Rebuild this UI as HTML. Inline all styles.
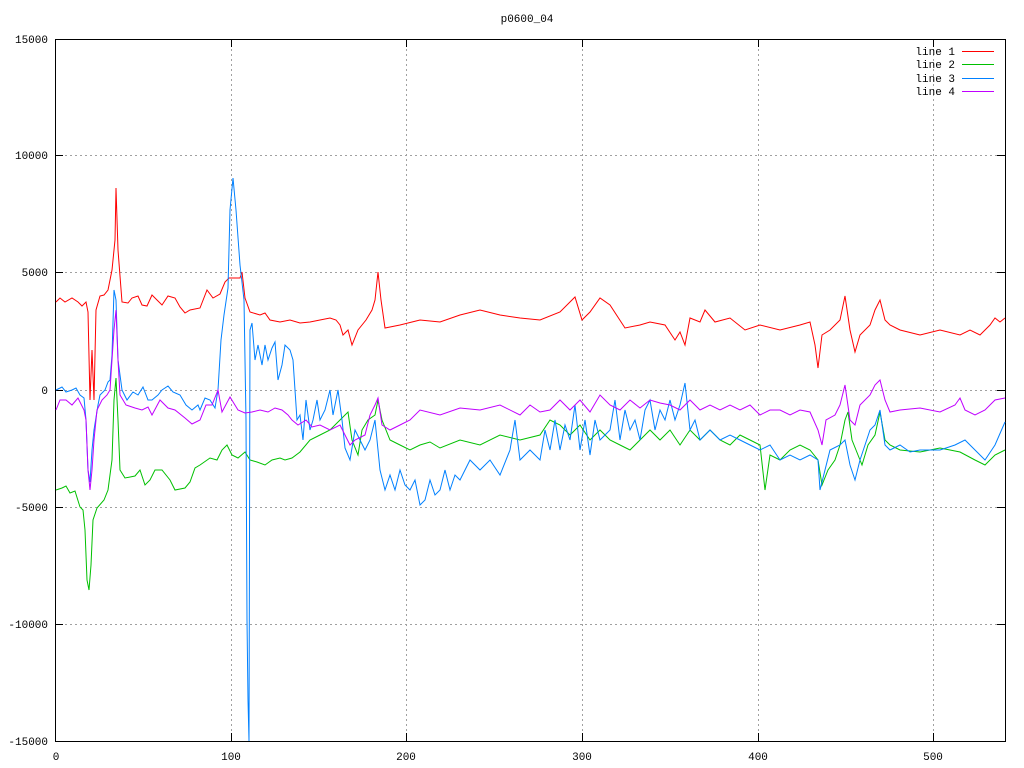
<!DOCTYPE html>
<html><head><meta charset="utf-8"><style>body{margin:0;background:#fff}svg{display:block}text{font-family:"Liberation Mono","DejaVu Sans Mono",monospace;font-size:11px;fill:#000}</style></head><body>
<svg width="1024" height="768" viewBox="0 0 1024 768">
<text x="527" y="22" text-anchor="middle">p0600_04</text>
<g stroke="#a0a0a0" stroke-dasharray="2,3" stroke-width="1">
<line x1="55" y1="155.5" x2="1005" y2="155.5"/><line x1="55" y1="272.5" x2="1005" y2="272.5"/><line x1="55" y1="390.5" x2="1005" y2="390.5"/><line x1="55" y1="507.5" x2="1005" y2="507.5"/><line x1="55" y1="624.5" x2="1005" y2="624.5"/>
<line x1="231.5" y1="39" x2="231.5" y2="741"/><line x1="406.5" y1="39" x2="406.5" y2="741"/><line x1="582.5" y1="39" x2="582.5" y2="741"/><line x1="758.5" y1="39" x2="758.5" y2="741"/><line x1="933.5" y1="39" x2="933.5" y2="741"/>
<line x1="55" y1="39" x2="900" y2="39" stroke="none"/>
</g>
<g stroke="#000" stroke-width="1">
<rect x="55.5" y="39.5" width="950" height="702" fill="none"/>
<path d="M55 39.5h8M55 155.5h8M55 272.5h8M55 390.5h8M55 507.5h8M55 624.5h8M55 741.5h8M1005 39.5h-8M1005 155.5h-8M1005 272.5h-8M1005 390.5h-8M1005 507.5h-8M1005 624.5h-8M1005 741.5h-8M231.5 741v-8M406.5 741v-8M582.5 741v-8M758.5 741v-8M933.5 741v-8M231.5 39v8M406.5 39v8M582.5 39v8M758.5 39v8M933.5 39v8"/>
</g>
<g text-anchor="end">
<text x="48" y="43">15000</text><text x="48" y="159">10000</text><text x="48" y="276">5000</text><text x="48" y="394">0</text><text x="48" y="511">-5000</text><text x="48" y="628">-10000</text><text x="48" y="745">-15000</text>
</g>
<g text-anchor="middle">
<text x="56" y="760">0</text><text x="231" y="760">100</text><text x="406" y="760">200</text><text x="582" y="760">300</text><text x="758" y="760">400</text><text x="933" y="760">500</text>
</g>
<g text-anchor="end">
<text x="955" y="55">line 1</text><text x="955" y="68">line 2</text><text x="955" y="82">line 3</text><text x="955" y="95">line 4</text>
</g>
<g fill="none" stroke-width="1">
<path stroke="#ff0000" d="M962 51.5h32M56 302L60 298L65 302L72 298L78 302L82 306L86 302L88 312L90 400L92 350L94 400L96 310L100 296L104 295L108 290L112 270L115 240L116 188L118 250L122 302L128 303L132 298L138 296L142 305L147 306L152 295L157 300L162 305L168 296L175 298L180 307L185 313L190 310L200 308L207 290L213 298L220 294L225 282L229 278L240 278L242 272L245 298L250 312L260 315L265 313L270 320L280 322L290 320L300 323L310 322L320 320L330 318L336 320L340 325L343 335L348 330L352 345L358 330L366 320L372 310L375 300L378 272L381 300L385 328L400 325L420 320L440 322L460 315L480 310L500 315L520 318L540 320L560 312L575 297L582 320L590 312L600 298L610 305L625 328L640 325L650 322L665 325L675 340L680 332L685 345L690 318L700 322L705 310L715 322L730 318L745 330L760 325L780 330L800 325L810 322L815 345L818 368L822 335L830 330L840 320L845 296L850 330L855 352L860 335L870 325L875 310L880 300L885 320L890 325L900 330L920 335L940 330L960 335L970 330L980 335L990 325L995 318L1000 322L1005 318"/>
<path stroke="#00c000" d="M962 64.5h32M56 490L62 488L66 486L70 493L75 491L80 507L83 510L85 530L87 580L89 590L91 565L93 520L97 508L104 500L108 490L112 460L114 400L116 378L118 420L120 470L125 478L135 476L140 470L145 485L150 480L155 470L162 470L170 480L175 490L185 488L190 482L195 468L200 465L210 458L217 460L222 450L227 445L232 455L238 458L245 452L250 460L257 462L265 465L272 460L280 458L285 460L292 458L300 452L310 440L320 435L330 430L340 420L348 412L352 440L358 455L362 430L368 420L375 415L378 400L382 420L390 440L400 445L410 450L420 445L430 442L440 448L460 440L480 445L500 435L520 440L540 435L550 420L560 425L570 435L580 425L590 440L600 430L610 440L620 445L630 450L640 440L650 430L660 440L670 430L680 445L690 430L700 440L710 430L720 440L730 445L740 435L750 440L760 445L765 490L770 455L780 460L790 450L800 445L810 450L818 460L822 485L828 470L835 460L840 445L845 420L848 412L852 440L858 455L862 465L868 445L875 435L880 412L885 440L890 445L900 450L920 452L940 448L960 452L975 460L985 465L995 455L1005 450"/>
<path stroke="#0080ff" d="M962 78.5h32M56 390L62 387L66 392L72 390L76 388L80 395L84 398L86 420L88 470L90 482L92 450L94 430L98 405L100 395L105 390L108 382L110 380L112 355L114 290L116 300L118 360L122 390L127 400L133 392L138 395L143 387L148 400L152 400L158 395L162 390L168 386L173 392L180 395L186 405L192 410L198 405L200 410L205 398L210 400L215 408L218 390L221 340L224 315L228 288L230 210L233 178L236 210L240 265L244 300L246 420L247 620L248 700L249 741L250 330L252 323L255 360L258 345L262 365L265 345L268 360L272 348L275 342L278 380L282 365L285 345L290 350L293 360L297 420L300 415L303 440L306 400L310 430L313 420L317 400L320 420L325 410L330 390L333 415L338 390L342 420L345 448L350 460L355 430L360 440L365 450L370 440L375 420L380 470L385 490L390 475L395 490L400 470L405 485L410 490L415 480L420 505L425 500L430 480L435 495L440 490L445 470L450 490L455 475L460 480L470 460L480 470L490 460L500 475L510 450L515 420L520 460L530 450L540 460L545 430L550 450L555 420L560 450L565 425L570 440L575 405L580 450L585 420L590 455L595 420L600 440L610 430L615 400L620 440L625 410L630 430L635 420L640 440L645 410L650 400L655 430L660 410L665 420L670 400L675 420L680 405L685 383L690 430L695 420L700 440L710 430L720 440L730 435L740 440L750 445L760 450L770 445L780 460L790 455L800 460L810 455L818 460L820 490L825 470L830 450L840 445L845 440L850 465L855 480L860 460L865 445L870 430L875 425L880 410L885 445L890 450L900 445L910 452L920 450L940 450L955 445L965 440L975 450L985 460L995 445L1005 422"/>
<path stroke="#c000ff" d="M962 91.5h32M56 410L60 400L66 400L72 405L78 398L84 410L86 420L88 470L90 490L92 470L94 440L97 410L102 400L107 395L110 390L114 330L116 310L118 360L120 395L126 405L135 408L142 410L148 407L152 415L160 400L168 408L175 410L185 418L192 424L200 420L206 405L212 405L218 390L222 412L230 397L238 410L245 413L252 412L260 410L268 412L275 408L282 410L288 415L292 420L298 425L306 420L312 427L320 425L330 430L340 425L345 435L350 445L355 440L365 435L370 415L375 405L378 398L382 425L390 430L400 425L410 420L420 410L440 415L460 408L480 410L500 405L520 415L530 405L540 412L550 410L560 400L570 410L580 400L590 412L600 395L610 405L620 410L630 400L640 408L650 400L660 403L670 405L680 410L690 400L700 410L710 405L720 410L730 405L740 410L750 405L760 415L770 410L780 410L790 415L800 410L810 412L818 430L822 445L826 420L835 415L840 405L845 385L850 420L855 425L860 405L870 395L875 385L880 380L885 400L890 412L900 410L920 408L940 412L955 405L960 398L965 410L975 415L985 410L995 400L1005 398"/>
</g>
</svg>
</body></html>
